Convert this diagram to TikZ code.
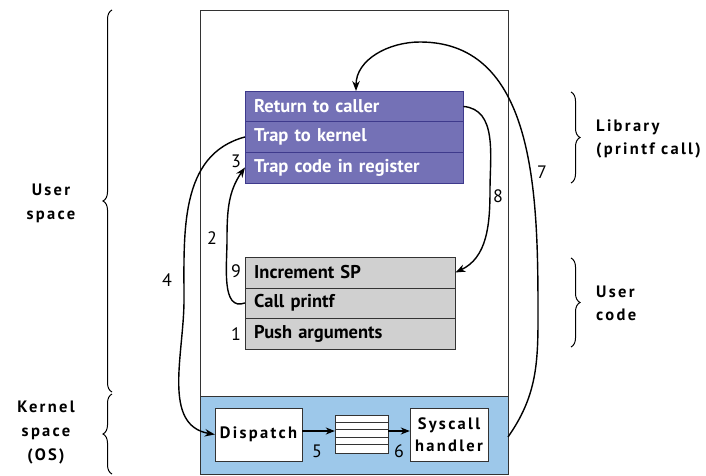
\documentclass[tikz,border=0pt]{standalone}
\usepackage{fontspec}
\setmainfont{PT Sans}
\newfontfamily\spc[LetterSpace=14]{PT Sans}
\usetikzlibrary{arrows.meta,decorations.pathreplacing}
\definecolor{libfill}{HTML}{7471B6}
\definecolor{libdraw}{HTML}{3E3A8C}
\definecolor{usrfill}{HTML}{D0D0D0}
\definecolor{kfill}{HTML}{9DC8EA}
\tikzset{
  lib/.style={draw=libdraw,fill=libfill,text=white,font=\bfseries\fontsize{18.5}{18.5}\selectfont,anchor=north west,minimum width=218pt,minimum height=30.5pt,inner sep=0pt,text width=200pt,align=left},
  usr/.style={draw=black!80,fill=usrfill,font=\bfseries\fontsize{18.5}{18.5}\selectfont,anchor=north west,minimum width=210pt,minimum height=30.5pt,inner sep=0pt,text width=192pt,align=left},
  kbox/.style={draw=black!80,fill=white,font=\spc\bfseries\fontsize{16.5}{22}\selectfont,align=center,inner sep=0pt},
  num/.style={font=\fontsize{18}{18}\selectfont,inner sep=0pt},
  side/.style={font=\spc\bfseries\fontsize{16.5}{24}\selectfont,align=center,inner sep=0pt},
  sideL/.style={font=\spc\bfseries\fontsize{16.5}{23}\selectfont,align=left,anchor=west,inner sep=0pt},
  arr/.style={line width=1.4pt,-{Stealth[length=10pt,width=7.5pt]}},
  brc/.style={decorate,decoration={brace,amplitude=9pt},line width=1pt}
}
\begin{document}
\begin{tikzpicture}[x=1pt,y=-1pt]
\useasboundingbox (0,0) rectangle (706,476);
% outer box
\draw[draw=black!80,line width=0.8pt] (200,10) rectangle (508,396);
\draw[draw=black!80,line width=0.8pt,fill=kfill] (200,396) rectangle (508,474);
\coordinate (kr) at (508,437);
% library stack
\node[lib] (ret) at (245,91) {Return to caller};
\node[lib] (trap) at (245,121.5) {Trap to kernel};
\node[lib] (code) at (245,152) {Trap code in register};
% user stack
\node[usr] (inc) at (245,257) {Increment SP};
\node[usr] (call) at (245,287.5) {Call printf};
\node[usr] (push) at (245,318) {Push arguments};
% kernel
\node[kbox,minimum width=87pt,minimum height=53pt] (disp) at (258.5,434.5) {Dispatch};
\node[draw=black!80,fill=white,minimum width=53pt,minimum height=38pt,inner sep=0pt] (q) at (361.5,434) {};
\foreach \yy in {422,429.5,437,444.5} \draw[black!80] (335,\yy) -- (388,\yy);
\node[kbox,minimum width=78pt,minimum height=53pt] (sys) at (449,434.5) {Syscall\\handler};
\draw[arr,line width=1.2pt,-{Stealth[length=9pt,width=7pt]}] (disp.east |- 0,431) -- (q.west |- 0,431);
\draw[arr,line width=1.2pt,-{Stealth[length=9pt,width=7pt]}] (q.east |- 0,431) -- (sys.west |- 0,431);
% numbers
\node[num] at (236,161) {3};
\node[num] at (236,271) {9};
\node[num] at (236,334) {1};
\node[num] at (212,238) {2};
\node[num] at (167,280) {4};
\node[num] at (317,451) {5};
\node[num] at (399,451) {6};
\node[num] at (542,172) {7};
\node[num] at (498,196) {8};
% arrows
\draw[arr] (kr) to[out=55,in=-90] (538,320) to[out=90,in=0] (420,42) to[out=180,in=90] (ret.north -| 356,0);
\draw[arr] (ret.east) to[out=-5,in=90] (490,190) to[out=-90,in=25] (inc.east);
\draw[arr] (call.west) to[out=200,in=-90] (227,240) to[out=90,in=235] (code.west);
\draw[arr] (trap.west) to[out=195,in=90] (184,300) to[out=-90,in=170] (disp.west);
% braces
\draw[brc] (112,392) -- (112,10);
\draw[brc] (112,474) -- (112,394);
\draw[brc] (571,92) -- (571,183);
\draw[brc] (571,258) -- (571,347);
\node[side] at (51,203) {User\\space};
\node[side] at (46,433) {Kernel\\space\\(OS)};
\node[sideL] at (596,139) {Library\\(printf call)};
\node[sideL] at (596,303) {User\\code};
\end{tikzpicture}
\end{document}
